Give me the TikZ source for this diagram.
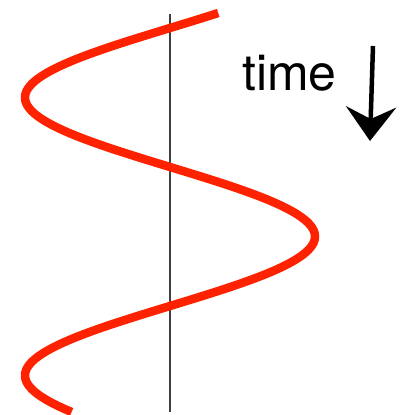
\documentclass[tikz,border=0pt]{standalone}
\usepackage{fontspec}
\setmainfont{TeX Gyre Heros}
\usetikzlibrary{arrows.meta}
\definecolor{wavered}{RGB}{255,34,0}
\tikzset{
  wave/.style={line width=8.5pt, wavered},
  axisline/.style={line width=1.1pt, black!75},
  timearrow/.style={line width=4.5pt, -{Stealth[length=34pt, width=50pt, inset=12pt]}}
}

\begin{document}
\begin{tikzpicture}[x=1pt, y=-1pt, font=\fontsize{50}{60}\selectfont]
\useasboundingbox (0,0) rectangle (402,415);
% the vertical reference line
\coordinate (top) at (170,14);
\coordinate (bottom) at (170,412);
\draw[axisline] (top) -- (bottom);
% the oscillation
\draw[wave] plot[domain=13:412, samples=200, smooth] ({170-145*sin(1.295*(\x-28))}, \x);
% label and arrow
\node[anchor=base west, inner sep=0pt] (time) at (242,90) {time};
\coordinate (arrowtop) at (373,46);
\coordinate (arrowtip) at (370,141);
\draw[timearrow] (arrowtop) -- (arrowtip);
\end{tikzpicture}
\end{document}
